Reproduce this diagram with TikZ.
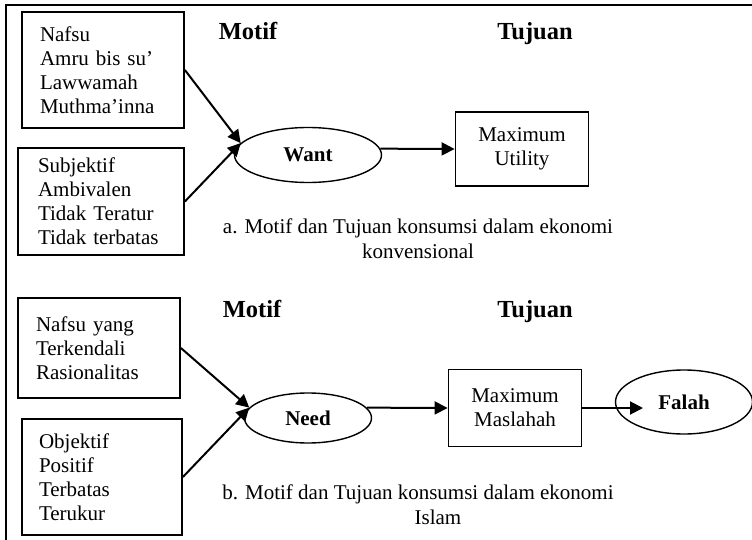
\documentclass[tikz,border=0pt]{standalone}
\usepackage{fontspec}
\setmainfont{Liberation Serif}
\usetikzlibrary{shapes.geometric, arrows.meta, positioning}
\tikzset{
  mbox/.style={rectangle, draw=black, line width=1.8pt,
    font=\fontsize{21}{24}\selectfont, align=left, text width=126pt, inner sep=0pt},
  gbox/.style={rectangle, draw=black, line width=1.8pt,
    font=\fontsize{21}{24}\selectfont, align=center, minimum width=133pt, inner sep=0pt},
  oval/.style={ellipse, draw=black, line width=1.4pt,
    font=\bfseries\fontsize{21}{24}\selectfont, inner sep=0pt},
  ttl/.style={font=\bfseries\fontsize{24.5}{28}\selectfont, inner sep=0pt, anchor=base},
  captxt/.style={font=\fontsize{21}{25}\selectfont, align=center, inner sep=0pt},
  ar/.style={-{Triangle[length=13pt,width=13pt]}, draw=black, line width=2pt},
  frm/.style={draw=black, line width=2pt},
}

\begin{document}
\begin{tikzpicture}[x=1pt, y=-1pt]
\useasboundingbox (0,0) rectangle (752,540);

%% ===== FRAME =====
\draw[frm] (6,540) -- (6,5) -- (752,5);

%% ===== PART A: konvensional =====
\node[ttl] (TMa) at (248,40) {Motif};
\node[ttl] (TJa) at (535,40) {Tujuan};

\node[mbox, minimum width=162pt, minimum height=116pt] (MA1) at (103,70)
  {Nafsu\\Amru bis su’\\Lawwamah\\Muthma’inna};
\node[mbox, minimum width=166pt, minimum height=107pt] (MA2) at (101,201.5)
  {Subjektif\\Ambivalen\\Tidak Teratur\\Tidak terbatas};
\node[oval, minimum width=147pt, minimum height=55pt] (WANT) at (308,155) {Want};
\node[gbox, minimum height=74pt] (UTIL) at (522,149) {Maximum\\Utility};

\node[captxt] (CAPa) at (418,239) {a. Motif dan Tujuan konsumsi dalam ekonomi\\konvensional};

%% ===== PART B: Islam =====
\node[ttl] (TMb) at (252,317) {Motif};
\node[ttl] (TJb) at (535,317) {Tujuan};

\node[mbox, minimum width=162pt, minimum height=100pt] (MB1) at (99,348)
  {Nafsu yang\\Terkendali\\Rasionalitas};
\node[mbox, minimum width=160pt, minimum height=116pt] (MB2) at (102,477)
  {Objektif\\Positif\\Terbatas\\Terukur};
\node[oval, minimum width=127pt, minimum height=50pt] (NEED) at (308,418) {Need};
\node[gbox, minimum height=77pt] (MASL) at (515,408) {Maximum\\Maslahah};
\node[oval, minimum width=137pt, minimum height=64pt] (FALAH) at (684,402) {Falah};
\coordinate (FIN) at (643,408);

\node[captxt] (CAPb) at (418,505) {b. Motif dan Tujuan konsumsi dalam ekonomi\\\hspace*{40pt}Islam};

%% ===== ARROWS =====
\draw[ar] (MA1.east) -- (WANT.170);
\draw[ar] (MA2.east) -- (WANT.170);
\draw[ar] (WANT.5) -- (UTIL.west);

\draw[ar] (MB1.east) -- (NEED.170);
\draw[ar] (MB2.east) -- (NEED.170);
\draw[ar] (NEED.10) -- (MASL.west);
\draw[ar] (MASL.east) -- (FIN);
\end{tikzpicture}
\end{document}
